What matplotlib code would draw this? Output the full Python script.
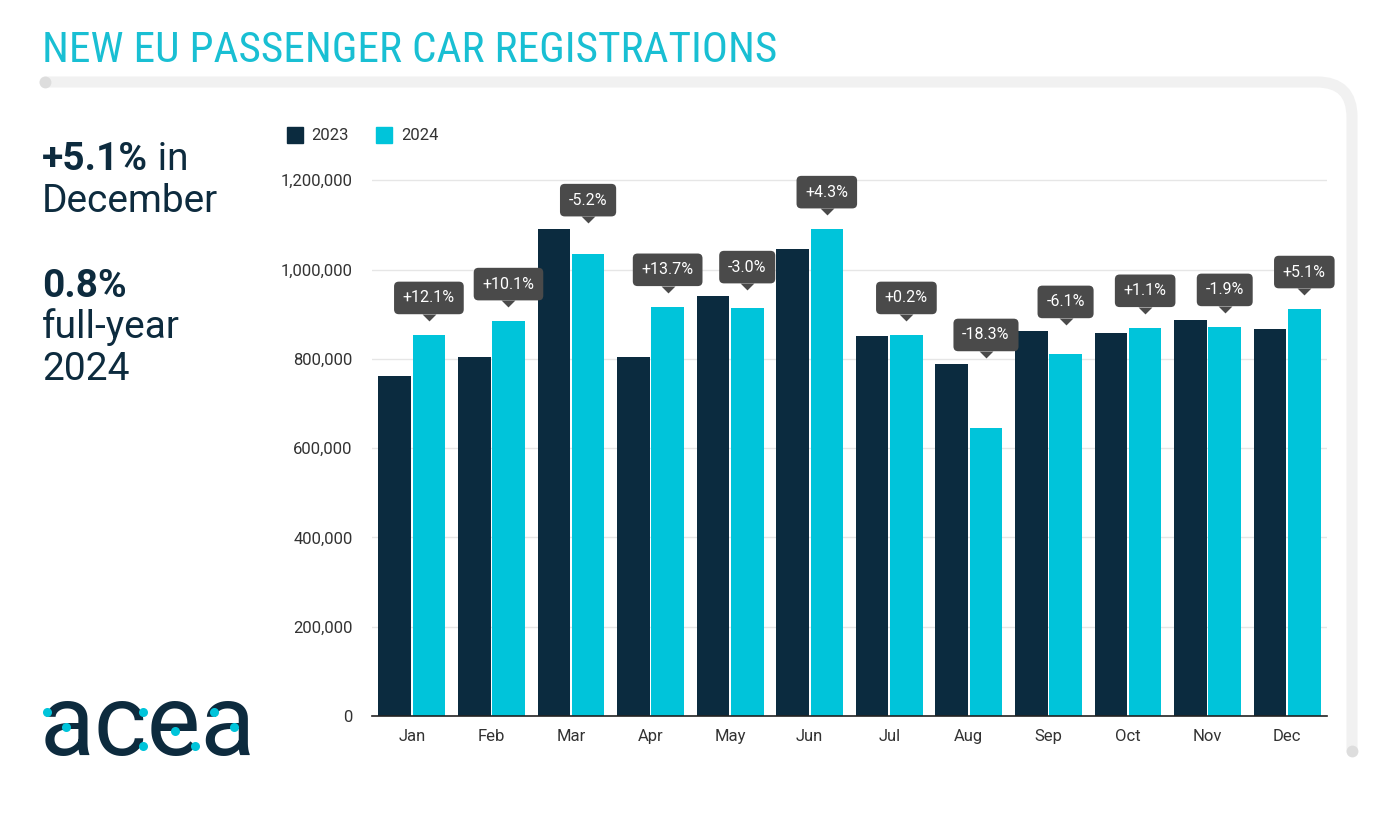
import os
import matplotlib
matplotlib.use('Agg')
import matplotlib.pyplot as plt
from matplotlib import font_manager as fm
from matplotlib.path import Path
from matplotlib.patches import PathPatch
from matplotlib.lines import Line2D
import matplotlib.transforms as mtrans
import numpy as np

# ---------------- data ----------------
months = ['Jan', 'Feb', 'Mar', 'Apr', 'May', 'Jun', 'Jul', 'Aug', 'Sep', 'Oct', 'Nov', 'Dec']
reg_2023 = [761000, 804000, 1090000, 804000, 940000, 1046000, 851000, 788000, 862000, 858000, 887000, 867000]
reg_2024 = [853000, 884000, 1034000, 916000, 913000, 1090000, 853000, 645000, 810000, 869000, 871000, 911000]
changes = ['+12.1%', '+10.1%', '-5.2%', '+13.7%', '-3.0%', '+4.3%', '+0.2%', '-18.3%', '-6.1%', '+1.1%', '-1.9%', '+5.1%']
series_labels = ['2023', '2024']
yticks = [0, 200000, 400000, 600000, 800000, 1000000, 1200000]
title = 'NEW EU PASSENGER CAR REGISTRATIONS'
kpi_month = ['+5.1%', ' in', 'December']
kpi_year = ['0.8%', 'full-year', '2024']
logo = 'acea'

# ---------------- style ----------------
NAVY = '#0B2B3F'
CYAN = '#00C4DA'
TITLE_C = '#19BFD3'
TEXT_C = '#0D2B3E'
TICK_C = '#333333'
BOX_C = '#4A4A4A'
W, H = 1382, 830


def available(name):
    try:
        fm.findfont(fm.FontProperties(family=name), fallback_to_default=False)
        return True
    except Exception:
        return False


base_font = 'Roboto' if available('Roboto') else 'DejaVu Sans'
cond_font, cond_stretch = None, 'normal'
for fam in ['Roboto Condensed', 'Liberation Sans Narrow', 'Open Sans Condensed']:
    if available(fam):
        cond_font = fam
        break
if cond_font is None:
    for fam in ['Roboto', 'Noto Sans', 'Open Sans', 'DejaVu Sans']:
        try:
            p = fm.findfont(fm.FontProperties(family=fam, stretch='condensed'), fallback_to_default=False)
            b = os.path.basename(p).lower()
            if 'condensed' in b or 'narrow' in b:
                cond_font, cond_stretch = fam, 'condensed'
                break
        except Exception:
            pass
if cond_font is None:
    cond_font = base_font

plt.rcParams['font.family'] = [base_font, 'DejaVu Sans']

fig = plt.figure(figsize=(W / 100, H / 100), dpi=100)
fig.patch.set_facecolor('white')

# ---------------- card border ----------------
ident = mtrans.IdentityTransform()
verts = [(45, H - 82), (1317, H - 82), (1352, H - 82), (1352, H - 117), (1352, H - 751)]
codes = [Path.MOVETO, Path.LINETO, Path.CURVE3, Path.CURVE3, Path.LINETO]
fig.add_artist(PathPatch(Path(verts, codes), fill=False, lw=8, ec='#F1F1F1',
                         transform=ident, capstyle='round', joinstyle='round', zorder=0))
for (px, py) in [(45, H - 82), (1352, H - 751)]:
    fig.add_artist(Line2D([px], [py], marker='o', ms=8.5, color='#DDDDDD', mew=0,
                          transform=ident, zorder=1))

# ---------------- axes ----------------
ax = fig.add_axes([372 / W, 114 / H, 955 / W, 558 / H])
x = np.arange(len(months))
bw = 0.41
off = 0.215
ax.bar(x - off, reg_2023, width=bw, color=NAVY, label=series_labels[0], zorder=2)
ax.bar(x + off, reg_2024, width=bw, color=CYAN, label=series_labels[1], zorder=2)

ax.set_xlim(-0.5, len(months) - 0.5)
ax.set_ylim(0, 1250000)
ax.set_yticks(yticks)
ax.set_yticklabels([f'{v:,}' for v in yticks])
ax.set_xticks(x)
ax.set_xticklabels(months)
ax.tick_params(axis='both', length=0, labelsize=12, colors=TICK_C)
ax.tick_params(axis='y', pad=14)
ax.tick_params(axis='x', pad=9)
ax.grid(axis='y', color='#E6E6E6', lw=1, zorder=0)
ax.set_axisbelow(True)
for s in ['top', 'right', 'left']:
    ax.spines[s].set_visible(False)
ax.spines['bottom'].set_color('#222222')
ax.spines['bottom'].set_linewidth(1.2)
ax.spines['bottom'].set_zorder(3)

# ---------------- annotations ----------------
px_per_unit = 558 / 1250000
tri = Path([(-1, 0), (1, 0), (0, -1), (-1, 0)], [Path.MOVETO, Path.LINETO, Path.LINETO, Path.CLOSEPOLY])
ann_fs = 11.5
ann_pad = 0.55
for i, lbl in enumerate(changes):
    tip = max(reg_2024[i] + 15 / px_per_unit, reg_2023[i] + 7 / px_per_unit)
    xc = x[i] + off
    ax.plot([xc], [tip], marker=tri, ms=10, color=BOX_C, mew=0, clip_on=False, zorder=5,
            transform=mtrans.offset_copy(ax.transData, fig=fig, x=0, y=6.5, units='dots'))
    ax.annotate(lbl, xy=(xc, tip), xytext=(0, 6 + ann_pad * ann_fs * 100 / 72), textcoords='offset pixels',
                ha='center', va='bottom', color='white', fontsize=ann_fs, zorder=6,
                annotation_clip=False,
                bbox=dict(boxstyle=f'round,pad={ann_pad},rounding_size=0.3', fc=BOX_C, ec='none'))

# ---------------- legend ----------------
handles = [Line2D([], [], marker='s', ls='', ms=12, color=NAVY, label=series_labels[0]),
           Line2D([], [], marker='s', ls='', ms=12, color=CYAN, label=series_labels[1])]
leg = fig.legend(handles=handles, loc='center left', bbox_to_anchor=(280 / W, 1 - 136 / H),
                 ncol=2, frameon=False, fontsize=12, handlelength=1.0, handletextpad=0.5,
                 columnspacing=1.6, borderaxespad=0)
for t in leg.get_texts():
    t.set_color(TICK_C)

# ---------------- title ----------------
renderer = fig.canvas.get_renderer()
tt = fig.text(42 / W, 1 - 62 / H, title, color=TITLE_C, fontsize=30, family=[cond_font, base_font],
              fontstretch=cond_stretch, va='baseline', ha='left')
bb = tt.get_window_extent(renderer)
tt.set_fontsize(30 * 736 / bb.width)

# ---------------- KPI texts ----------------
t1 = fig.text(42 / W, 1 - 170 / H, kpi_month[0], fontsize=28, fontweight='bold', color=TEXT_C,
              va='baseline', ha='left')
fig.canvas.draw()
b1 = t1.get_window_extent(renderer)
fig.text(b1.x1 / W, 1 - 170 / H, kpi_month[1], fontsize=28, color=TEXT_C, va='baseline', ha='left')
fig.text(42 / W, 1 - 212 / H, kpi_month[2], fontsize=28, color=TEXT_C, va='baseline', ha='left')
fig.text(42 / W, 1 - 297 / H, kpi_year[0], fontsize=28, fontweight='bold', color=TEXT_C,
         va='baseline', ha='left')
fig.text(42 / W, 1 - 338 / H, kpi_year[1], fontsize=28, color=TEXT_C, va='baseline', ha='left')
fig.text(42 / W, 1 - 380 / H, kpi_year[2], fontsize=28, color=TEXT_C, va='baseline', ha='left')

# ---------------- logo ----------------
base_y = 755
lg = fig.text(40 / W, 1 - base_y / H, logo, fontsize=80, color=TEXT_C, va='baseline', ha='left',
              family=[base_font], fontweight='normal')
lb = lg.get_window_extent(renderer)
lfs = 80 * 216 / lb.width
lg.set_fontsize(lfs)
fig.canvas.draw()
lb = lg.get_window_extent(renderer)
xh = 0.528 * lfs * 100 / 72  # approximate x-height in pixels
ref_dots = [(47, 697), (66, 717), (142, 697), (142, 743), (174, 723), (194, 743), (213, 697), (233, 717)]
for (px, py) in ref_dots:
    fx = lb.x0 + (px - 40) / 215 * lb.width
    fy = base_y - (755 - py) / 72 * xh
    fig.add_artist(Line2D([fx], [H - fy], marker='o', ms=6.5, color=CYAN, mew=0,
                          transform=ident, zorder=10))

fig.savefig('out.png', dpi=100, facecolor='white')
